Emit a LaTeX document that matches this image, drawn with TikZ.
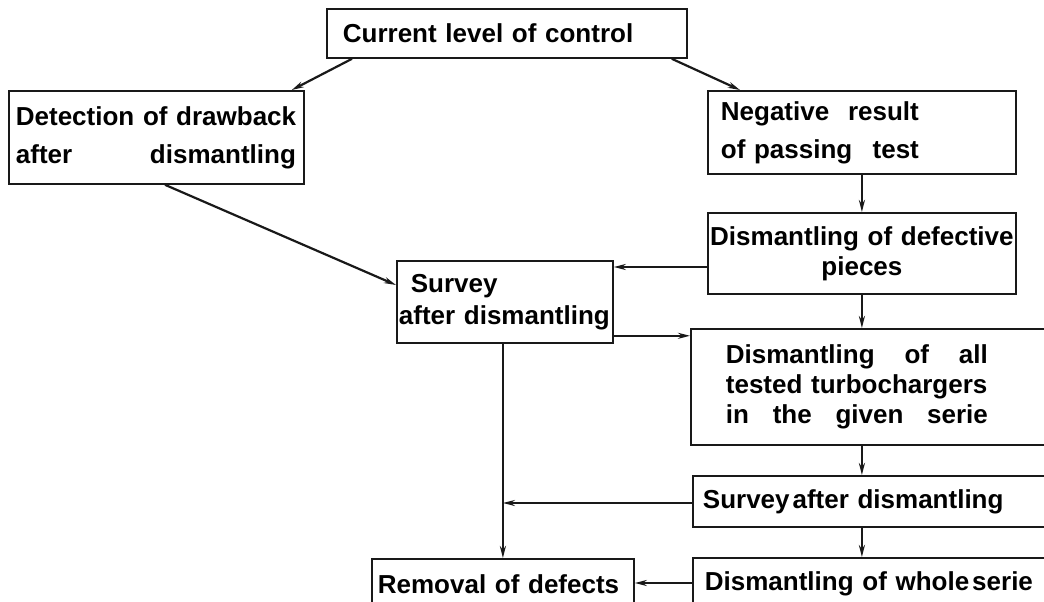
\documentclass[tikz,border=0pt]{standalone}
\usepackage{fontspec}
\setmainfont{Liberation Sans}
\usetikzlibrary{arrows.meta}
\newcommand\jline[2]{\leavevmode\hbox to #1{#2}}
\begin{document}
\begin{tikzpicture}[x=1pt,y=-1pt,
  box/.style={draw=black!90, line width=1.8pt, rectangle, anchor=north west,
    inner ysep=0pt, align=left, font=\bfseries\fontsize{26}{30}\selectfont},
  loose/.style={font=\bfseries\fontsize{26}{38}\selectfont},
  arr/.style={draw=black!90, line width=2.2pt, -{Stealth[length=12pt,width=6pt]}}]
\useasboundingbox (0,0) rectangle (1044,602);
\clip (0,0) rectangle (1044,602);

\node[box, inner xsep=16pt, text width=328pt, minimum height=49pt] (top) at (326,8)
  {Current level of control};
\node[box, loose, inner xsep=7pt, text width=281pt, minimum height=93pt] (det) at (8,90)
  {Detection of drawback\\\jline{280pt}{after\hfill dismantling}};
\node[box, loose, inner xsep=13pt, text width=282pt, minimum height=83pt] (neg) at (707,90)
  {\jline{198pt}{Negative\hfill result}\\\jline{198pt}{of passing\hfill test}};
\node[box, align=center, inner xsep=2pt, text width=304pt, minimum height=81pt] (def) at (707,212)
  {\mbox{Dismantling of defective}\\pieces};
\node[box, font=\bfseries\fontsize{26}{32}\selectfont, inner xsep=2pt, text width=212pt, minimum height=82pt] (sur1) at (396,260)
  {\hspace*{12pt}Survey\\after dismantling};
\node[box, inner xsep=35pt, text width=300pt, minimum height=116pt] (big) at (690,328)
  {\jline{262pt}{Dismantling\hfill of\hfill all}\\\jline{262pt}{tested turbochargers}\\\jline{262pt}{in\hfill the\hfill given\hfill serie}};
\node[box, inner xsep=10pt, text width=350pt, minimum height=51pt] (sur2) at (692,475)
  {Survey\hspace{3pt}after dismantling};
\node[box, inner xsep=6pt, text width=250pt, minimum height=50pt] (rem) at (371,558)
  {Removal of defects};
\node[box, inner xsep=12pt, text width=348pt, minimum height=52pt] (whole) at (692,557)
  {\jline{328pt}{Dismantling of whole\hspace{3pt}serie}};

% connectors
\draw[arr] ([xshift=26pt]top.south west) -- ([xshift=-13pt]det.north east);
\draw[arr] ([xshift=-16pt]top.south east) -- ([xshift=33pt]neg.north west);
\draw[arr] ([xshift=157pt]det.south west) -- ([yshift=-25pt]sur1.north west);
\draw[arr] (neg.south) -- (def.north);
\draw[arr] ([yshift=-55pt]def.north west) -- ([yshift=-55pt]def.north west -| sur1.east);
\draw[arr] (def.south) -- (def.south |- big.north);
\draw[arr] ([yshift=8pt]sur1.south east) -- ([yshift=8pt]sur1.south east -| big.west);
\draw[arr] (def.south |- big.south) -- (def.south |- sur2.north);
\draw[arr] (def.south |- sur2.south) -- (def.south |- whole.north);
\draw[arr] (rem.north |- sur1.south) -- (rem.north);
\draw[arr] ([yshift=-28pt]sur2.north west) -- ([yshift=-28pt]sur2.north west -| rem.north);
\draw[arr] ([yshift=-26pt]whole.north west) -- ([yshift=-26pt]whole.north west -| rem.east);
\end{tikzpicture}
\end{document}
